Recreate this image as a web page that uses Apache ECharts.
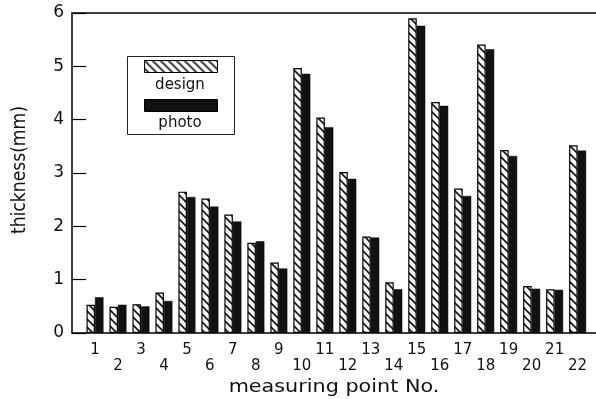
<!DOCTYPE html>
<html><head><meta charset="utf-8">
<script src="https://cdn.jsdelivr.net/npm/echarts@6/dist/echarts.min.js"></script>
<style>html,body{margin:0;padding:0;background:#fff}#c{width:596px;height:399px}</style>
</head><body><div id="c"></div>
<script>
const categories = [1,2,3,4,5,6,7,8,9,10,11,12,13,14,15,16,17,18,19,20,21,22];
const design = [0.53,0.49,0.54,0.76,2.65,2.52,2.22,1.69,1.32,4.97,4.04,3.02,1.81,0.95,5.90,4.33,2.71,5.41,3.43,0.88,0.82,3.52];
const photo  = [0.67,0.53,0.50,0.60,2.55,2.37,2.09,1.72,1.21,4.86,3.86,2.89,1.79,0.82,5.76,4.26,2.57,5.32,3.32,0.83,0.81,3.42];
const yTicks = [0,1,2,3,4,5,6];

const FONT = '"DejaVu Sans", sans-serif';
function makeHatch(){
  const s = 8, c = document.createElement('canvas');
  c.width = s; c.height = s;
  const g = c.getContext('2d');
  g.fillStyle = '#fff'; g.fillRect(0,0,s,s);
  g.strokeStyle = '#111'; g.lineWidth = 1.6;
  g.beginPath();
  g.moveTo(-1,-1); g.lineTo(s+1,s+1);
  g.moveTo(-2,s-2); g.lineTo(2,s+2);
  g.moveTo(s-2,-2); g.lineTo(s+2,2);
  g.stroke();
  return c;
}
const hatch = {image: makeHatch(), repeat: 'repeat'};

const chart = echarts.init(document.getElementById('c'), null, {renderer:'canvas'});
const xMin = 0, xMax = 22.8;
chart.setOption({
  animation: false,
  backgroundColor: '#fff',
  grid: {left: 72, right: 0, top: 13, bottom: 66, containLabel: false},
  xAxis: [{
    type: 'value', min: xMin, max: xMax, interval: 1,
    axisLine: {show: true, onZero: false, lineStyle: {color: '#000', width: 1.5}},
    axisTick: {show: false},
    splitLine: {show: false},
    axisLabel: {
      margin: 9, fontSize: 15, color: '#111', fontFamily: FONT, lineHeight: 16,
      showMaxLabel: false,
      formatter: function(v){
        if (v < 1 || v !== Math.round(v) || categories.indexOf(v) < 0) return '';
        return (v % 2 === 1) ? String(v) : '\n' + v;
      }
    }
  },{
    type: 'value', position: 'top', min: xMin, max: xMax,
    axisLine: {show: true, onZero: false, lineStyle: {color: '#000', width: 1.5}},
    axisTick: {show: false}, axisLabel: {show: false}, splitLine: {show: false}
  }],
  yAxis: {
    type: 'value', min: yTicks[0], max: yTicks[yTicks.length-1], interval: 1,
    axisLine: {show: true, lineStyle: {color: '#000', width: 1.5}},
    axisTick: {show: true, inside: true, length: 14, lineStyle: {color: '#000', width: 1.2}},
    splitLine: {show: false},
    axisLabel: {margin: 8, fontSize: 17, color: '#111', fontFamily: FONT}
  },
  series: [{
    name: 'design', type: 'bar', barWidth: 8.5, barGap: '0%',
    data: categories.map((c,i) => [c, design[i]]),
    itemStyle: {color: hatch, borderColor: '#000', borderWidth: 1.2}
  },{
    name: 'photo', type: 'bar', barWidth: 8.5, barGap: '0%',
    data: categories.map((c,i) => [c, photo[i]]),
    itemStyle: {color: '#111', borderColor: '#000', borderWidth: 0.5}
  }],
  graphic: [
    {type:'text', x:334, y:388, scaleX:1.22, style:{text:'measuring point No.', fontSize:17, fontFamily: FONT, fill:'#111', align:'center', verticalAlign:'middle'}},
    {type:'text', x:20, y:170, rotation: Math.PI/2, scaleX:0.86, style:{text:'thickness(mm)', fontSize:20, fontFamily: FONT, fill:'#111', align:'center', verticalAlign:'middle'}},
    {type:'rect', left:127, top:56, shape:{width:107, height:78}, style:{fill:'#fff', stroke:'#222', lineWidth:1}, z: 10},
    {type:'rect', left:144, top:60, shape:{width:73, height:12}, style:{fill: hatch, stroke:'#000', lineWidth:1}, z: 11},
    {type:'text', x:180, y:85, style:{text:'design', fontSize:15, fontFamily: FONT, fill:'#111', align:'center', verticalAlign:'middle'}, z: 11},
    {type:'rect', left:144, top:99, shape:{width:73, height:12}, style:{fill:'#111', stroke:'#000', lineWidth:1}, z: 11},
    {type:'text', x:180, y:123, style:{text:'photo', fontSize:15, fontFamily: FONT, fill:'#111', align:'center', verticalAlign:'middle'}, z: 11}
  ]
});
</script></body></html>
